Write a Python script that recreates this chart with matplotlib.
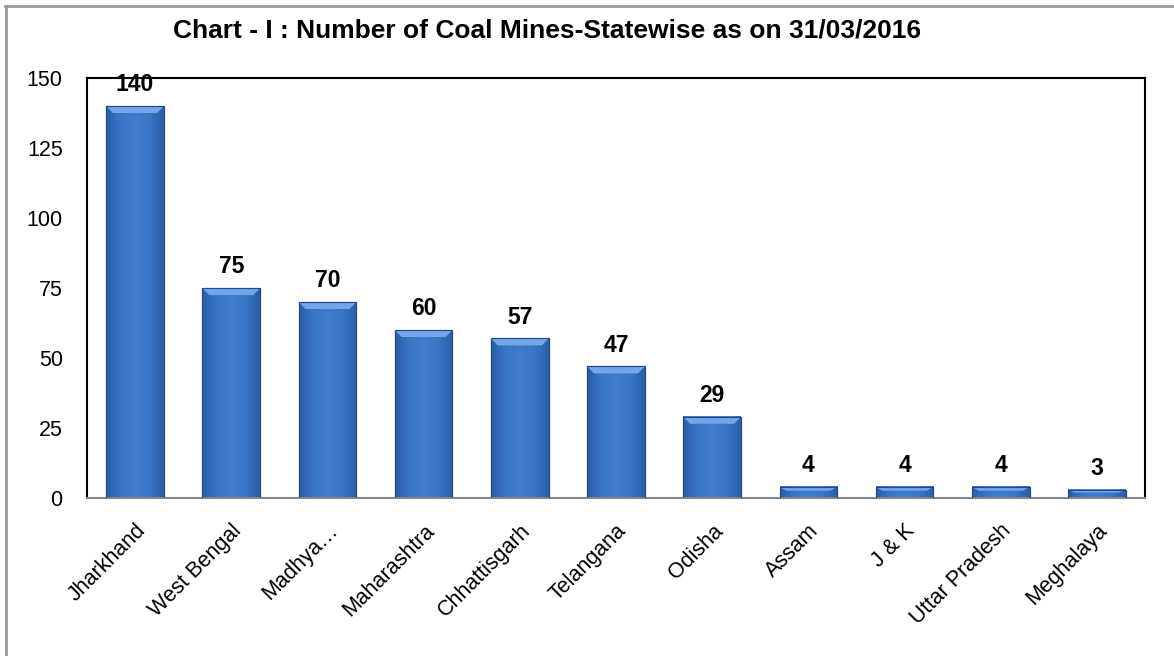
import matplotlib
matplotlib.use("Agg")
import matplotlib.pyplot as plt
import numpy as np
from matplotlib.lines import Line2D
from matplotlib.colors import LinearSegmentedColormap

states = ["Jharkhand", "West Bengal", "Madhya…", "Maharashtra", "Chhattisgarh",
          "Telangana", "Odisha", "Assam", "J & K", "Uttar Pradesh", "Meghalaya"]
mines = [140, 75, 70, 60, 57, 47, 29, 4, 4, 4, 3]
yticks = [0, 25, 50, 75, 100, 125, 150]
title = "Chart - I : Number of Coal Mines-Statewise as on 31/03/2016"

W, H = 1174, 656
fig = plt.figure(figsize=(W / 100, H / 100), dpi=100)
ax = fig.add_axes([87 / W, 1 - 498 / H, (1145 - 87) / W, (498 - 78) / H])

x = np.arange(len(states))
bars = ax.bar(x, mines, width=0.6, color="#3b74c2", edgecolor="#1e4a86",
              linewidth=0.8, zorder=2)

# horizontal gradient inside each bar + light top bevel
cmap = LinearSegmentedColormap.from_list(
    "bar", ["#2a5ea8", "#3a76c6", "#3f7ccc", "#3a76c6", "#2a5ea8"])
grad = np.linspace(0, 1, 64).reshape(1, -1)
for b in bars:
    x0, y0 = b.get_x(), b.get_y()
    w, h = b.get_width(), b.get_height()
    ax.imshow(grad, cmap=cmap, extent=(x0, x0 + w, y0, y0 + h),
              aspect="auto", zorder=2.5, interpolation="bicubic")
    bev = min(2.5, h * 0.35)
    ax.fill([x0, x0 + w, x0 + w - 0.07, x0 + 0.07],
            [y0 + h, y0 + h, y0 + h - bev, y0 + h - bev],
            color="#72a6e6", zorder=2.6, lw=0)
    ax.add_patch(plt.Rectangle((x0, y0), w, h, fill=False,
                               edgecolor="#1e4a86", lw=0.8, zorder=2.7))

ax.set_xlim(-0.5, len(states) - 0.5)
ax.set_ylim(0, 150)
ax.set_yticks(yticks)
ax.set_yticklabels([str(t) for t in yticks], fontsize=15.5,
                   family=["Liberation Sans", "DejaVu Sans"])
ax.set_xticks(x)
ax.set_xticklabels(states, rotation=45, ha="right", rotation_mode="anchor",
                   fontsize=15.5, family=["Liberation Sans", "DejaVu Sans"])
ax.tick_params(axis="y", length=0, pad=17.5)
ax.tick_params(axis="x", length=0, pad=16)

for s in ["left", "top", "right"]:
    ax.spines[s].set_color("#000000")
    ax.spines[s].set_linewidth(1.5)
ax.spines["bottom"].set_color("#888888")
ax.spines["bottom"].set_linewidth(1.5)

for xi, v in zip(x, mines):
    ax.annotate(str(v), (xi, v), xytext=(0, 7), textcoords="offset points",
                ha="center", va="bottom", fontsize=16.5, fontweight="bold",
                family=["Liberation Sans Narrow", "Liberation Sans", "DejaVu Sans"])

fig.text(547 / W, 1 - 30 / H, title, ha="center", va="center", fontsize=19,
         fontweight="bold",
         family=["Liberation Sans Narrow", "Liberation Sans", "DejaVu Sans"])

# outer frame lines (top and left)
fig.add_artist(Line2D([5 / W, 1], [1 - 5.5 / H, 1 - 5.5 / H], color="#999999",
                      lw=2, transform=fig.transFigure))
fig.add_artist(Line2D([5.5 / W, 5.5 / W], [0, 1 - 5.5 / H], color="#999999",
                      lw=2, transform=fig.transFigure))

fig.savefig("out.png", dpi=100)
